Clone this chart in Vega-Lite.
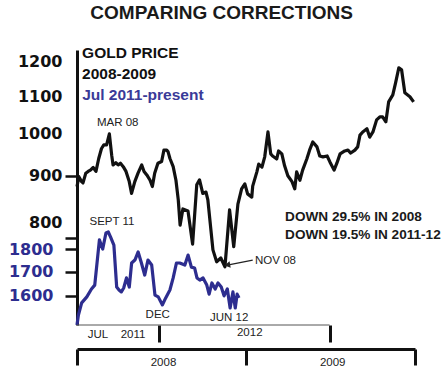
{
  "$schema": "https://vega.github.io/schema/vega-lite/v6.json",
  "width": 338,
  "height": 275,
  "autosize": {"type": "none"},
  "padding": {"left": 77, "top": 50, "right": 30, "bottom": 46},
  "background": "white",
  "config": {"view": {"stroke": null}, "font": "Liberation Sans"},
  "title": {"text": "COMPARING CORRECTIONS", "font": "Liberation Sans", "fontSize": 19, "fontWeight": "bold", "color": "#1a1a1a", "anchor": "middle", "frame": "bounds", "baseline": "alphabetic", "offset": 8, "dx": -3},
  "datasets": {
    "gold": [
      {"date":"2008-01-01","price":876},{"date":"2008-01-05","price":898},{"date":"2008-01-11","price":887},{"date":"2008-01-14","price":884},{"date":"2008-01-20","price":906},{"date":"2008-01-25","price":910},{"date":"2008-01-30","price":913},{"date":"2008-02-05","price":919},{"date":"2008-02-11","price":910},{"date":"2008-02-17","price":940},{"date":"2008-02-23","price":964},{"date":"2008-02-28","price":973},{"date":"2008-03-05","price":973},{"date":"2008-03-11","price":1000},{"date":"2008-03-16","price":948},{"date":"2008-03-19","price":925},{"date":"2008-03-25","price":930},{"date":"2008-03-30","price":925},{"date":"2008-04-04","price":929},{"date":"2008-04-10","price":921},{"date":"2008-04-16","price":910},{"date":"2008-04-23","price":887},{"date":"2008-04-28","price":861},{"date":"2008-05-05","price":887},{"date":"2008-05-12","price":906},{"date":"2008-05-20","price":925},{"date":"2008-05-25","price":910},{"date":"2008-05-31","price":902},{"date":"2008-06-07","price":890},{"date":"2008-06-12","price":876},{"date":"2008-06-17","price":906},{"date":"2008-06-24","price":929},{"date":"2008-07-02","price":933},{"date":"2008-07-07","price":960},{"date":"2008-07-13","price":960},{"date":"2008-07-16","price":956},{"date":"2008-07-20","price":940},{"date":"2008-07-27","price":921},{"date":"2008-08-02","price":890},{"date":"2008-08-07","price":847},{"date":"2008-08-11","price":795},{"date":"2008-08-17","price":828},{"date":"2008-08-28","price":824},{"date":"2008-09-07","price":758},{"date":"2008-09-16","price":880},{"date":"2008-09-22","price":891},{"date":"2008-09-29","price":861},{"date":"2008-10-06","price":864},{"date":"2008-10-10","price":847},{"date":"2008-10-21","price":747},{"date":"2008-10-29","price":725},{"date":"2008-11-07","price":732},{"date":"2008-11-16","price":716},{"date":"2008-11-26","price":826},{"date":"2008-12-05","price":753},{"date":"2008-12-14","price":838},{"date":"2008-12-22","price":871},{"date":"2008-12-29","price":882},{"date":"2009-01-04","price":860},{"date":"2009-01-13","price":853},{"date":"2009-01-15","price":877},{"date":"2009-01-24","price":909},{"date":"2009-01-28","price":927},{"date":"2009-02-04","price":920},{"date":"2009-02-10","price":944},{"date":"2009-02-17","price":1005},{"date":"2009-02-23","price":951},{"date":"2009-02-27","price":946},{"date":"2009-03-08","price":939},{"date":"2009-03-12","price":958},{"date":"2009-03-19","price":951},{"date":"2009-03-25","price":923},{"date":"2009-04-01","price":900},{"date":"2009-04-10","price":887},{"date":"2009-04-16","price":871},{"date":"2009-04-20","price":909},{"date":"2009-04-27","price":890},{"date":"2009-05-03","price":913},{"date":"2009-05-12","price":939},{"date":"2009-05-18","price":960},{"date":"2009-05-25","price":980},{"date":"2009-06-03","price":968},{"date":"2009-06-09","price":946},{"date":"2009-06-16","price":944},{"date":"2009-06-25","price":946},{"date":"2009-07-01","price":932},{"date":"2009-07-10","price":913},{"date":"2009-07-16","price":929},{"date":"2009-07-23","price":951},{"date":"2009-08-02","price":958},{"date":"2009-08-09","price":960},{"date":"2009-08-15","price":953},{"date":"2009-08-24","price":960},{"date":"2009-08-30","price":968},{"date":"2009-09-04","price":997},{"date":"2009-09-10","price":1005},{"date":"2009-09-19","price":1013},{"date":"2009-09-25","price":992},{"date":"2009-10-02","price":1005},{"date":"2009-10-10","price":1036},{"date":"2009-10-17","price":1044},{"date":"2009-10-23","price":1044},{"date":"2009-10-30","price":1031},{"date":"2009-11-05","price":1084},{"date":"2009-11-14","price":1103},{"date":"2009-11-20","price":1137},{"date":"2009-11-27","price":1181},{"date":"2009-12-03","price":1175},{"date":"2009-12-10","price":1109},{"date":"2009-12-21","price":1098},{"date":"2009-12-29","price":1084}
    ],
    "blue": [
      {"date":"2011-07-10","price":1487},{"date":"2011-07-13","price":1525},{"date":"2011-07-20","price":1572},{"date":"2011-07-31","price":1596},{"date":"2011-08-10","price":1628},{"date":"2011-08-17","price":1644},{"date":"2011-08-27","price":1842},{"date":"2011-09-03","price":1800},{"date":"2011-09-10","price":1874},{"date":"2011-09-15","price":1879},{"date":"2011-09-20","price":1855},{"date":"2011-09-27","price":1818},{"date":"2011-10-03","price":1636},{"date":"2011-10-08","price":1624},{"date":"2011-10-13","price":1616},{"date":"2011-10-18","price":1632},{"date":"2011-10-24","price":1674},{"date":"2011-10-30","price":1636},{"date":"2011-11-04","price":1738},{"date":"2011-11-11","price":1751},{"date":"2011-11-18","price":1787},{"date":"2011-11-25","price":1738},{"date":"2011-12-02","price":1686},{"date":"2011-12-09","price":1751},{"date":"2011-12-17","price":1729},{"date":"2011-12-24","price":1603},{"date":"2011-12-31","price":1596},{"date":"2012-01-09","price":1564},{"date":"2012-01-16","price":1592},{"date":"2012-01-25","price":1624},{"date":"2012-02-01","price":1674},{"date":"2012-02-08","price":1738},{"date":"2012-02-15","price":1738},{"date":"2012-02-26","price":1729},{"date":"2012-03-04","price":1773},{"date":"2012-03-11","price":1720},{"date":"2012-03-18","price":1716},{"date":"2012-03-23","price":1674},{"date":"2012-03-29","price":1665},{"date":"2012-04-05","price":1674},{"date":"2012-04-13","price":1644},{"date":"2012-04-18","price":1607},{"date":"2012-04-24","price":1653},{"date":"2012-05-01","price":1628},{"date":"2012-05-07","price":1653},{"date":"2012-05-14","price":1636},{"date":"2012-05-20","price":1600},{"date":"2012-05-27","price":1628},{"date":"2012-06-02","price":1552},{"date":"2012-06-08","price":1616},{"date":"2012-06-13","price":1552},{"date":"2012-06-17","price":1607},{"date":"2012-06-21","price":1592}
    ],
    "goldNotes": [{"date":"2008-02-13","price":1028,"label":"MAR 08"},{"date":"2009-01-20","price":726,"label":"NOV 08"}],
    "goldHead": [{"date":"2008-01-12","price":1226,"label":"GOLD PRICE"},{"date":"2008-01-12","price":1163,"label":"2008-2009"}],
    "goldDown": [{"date":"2009-03-26","price":812,"label":"DOWN 29.5% IN 2008"},{"date":"2009-03-26","price":775.5,"label":"DOWN 19.5% IN 2011-12"}],
    "arrow": [{"date":"2008-11-21","price":719,"date2":"2009-01-15","price2":728}],
    "arrowHead": [{"date":"2008-11-21","price":719}],
    "blueNotes": [{"date":"2011-09-23","price":1927,"label":"SEPT 11"},{"date":"2011-12-30","price":1525,"label":"DEC"},{"date":"2012-05-31","price":1513,"label":"JUN 12"},{"date":"2011-08-24","price":1450,"label":"JUL"},{"date":"2011-11-07","price":1450,"label":"2011"},{"date":"2012-07-14","price":1457,"label":"2012"}],
    "blueHead": [{"date":"2011-07-21","price":2652,"label":"Jul 2011-present"}],
    "blueAxisLine": [{"date":"2011-07-10","date2":"2013-01-01"}]
  },
  "layer": [
    {
      "layer": [
        {
          "data": {"name": "gold"},
          "mark": {"type": "line", "color": "#111111", "strokeWidth": 3.2, "strokeJoin": "round"},
          "encoding": {
            "x": {"field": "date", "type": "temporal",
              "scale": {"domain": [{"year": 2008, "month": 1, "date": 1}, {"year": 2010, "month": 1, "date": 1}]},
              "axis": {"orient": "bottom", "offset": 24, "title": null, "grid": false,
                "values": [{"year": 2008, "month": 1, "date": 1}, {"year": 2009, "month": 1, "date": 1}, {"year": 2010, "month": 1, "date": 1}],
                "format": "%Y", "labelExpr": "datum.label == '2010' ? '' : datum.label",
                "labelOffset": 86, "labelFlush": false, "labelBound": false, "labelFont": "Liberation Sans", "labelFontSize": 11.5, "labelColor": "#222222", "labelPadding": -9,
                "tickSize": 16, "tickWidth": 3, "tickColor": "#111111", "domainWidth": 3, "domainColor": "#111111"}},
            "y": {"field": "price", "type": "quantitative",
              "scale": {"type": "log", "domain": [618.4, 1235], "nice": false, "zero": false},
              "axis": {"orient": "left", "title": null, "grid": false,
                "values": [770, 800, 900, 1000, 1100, 1200], "format": "d",
                "labelExpr": "datum.value == 770 ? '' : datum.label",
                "labelFont": "DejaVu Sans", "labelFontSize": 16, "labelFontWeight": "bold", "labelColor": "#111111", "labelPadding": 3,
                "tickSize": 12, "tickWidth": 2.5, "tickColor": "#111111",
                "tickOpacity": {"condition": {"test": "datum.value == 900 || datum.value == 770", "value": 1}, "value": 0},
                "domainWidth": 3, "domainColor": "#111111"}}
          }
        },
        {
          "data": {"name": "goldNotes"},
          "mark": {"type": "text", "align": "left", "baseline": "middle", "font": "Liberation Sans", "fontSize": 11.5, "color": "#222222"},
          "encoding": {"x": {"field": "date", "type": "temporal"}, "y": {"field": "price", "type": "quantitative"}, "text": {"field": "label", "type": "nominal"}}
        },
        {
          "data": {"name": "goldHead"},
          "mark": {"type": "text", "align": "left", "baseline": "middle", "font": "Liberation Sans", "fontSize": 15.5, "fontWeight": "bold", "color": "#111111"},
          "encoding": {"x": {"field": "date", "type": "temporal"}, "y": {"field": "price", "type": "quantitative"}, "text": {"field": "label", "type": "nominal"}}
        },
        {
          "data": {"name": "goldDown"},
          "mark": {"type": "text", "align": "left", "baseline": "middle", "font": "Liberation Sans", "fontSize": 13.6, "fontWeight": "bold", "color": "#1a1a1a"},
          "encoding": {"x": {"field": "date", "type": "temporal"}, "y": {"field": "price", "type": "quantitative"}, "text": {"field": "label", "type": "nominal"}}
        },
        {
          "data": {"name": "arrow"},
          "mark": {"type": "rule", "color": "#222222", "strokeWidth": 1.2},
          "encoding": {"x": {"field": "date", "type": "temporal"}, "x2": {"field": "date2"}, "y": {"field": "price", "type": "quantitative"}, "y2": {"field": "price2"}}
        },
        {
          "data": {"name": "arrowHead"},
          "mark": {"type": "point", "shape": "triangle-left", "filled": true, "size": 45, "color": "#222222", "opacity": 1, "angle": 350},
          "encoding": {"x": {"field": "date", "type": "temporal"}, "y": {"field": "price", "type": "quantitative"}}
        }
      ]
    },
    {
      "layer": [
        {
          "data": {"name": "blue"},
          "mark": {"type": "line", "color": "#2d2d8f", "strokeWidth": 3.2, "strokeJoin": "round"},
          "encoding": {
            "x": {"field": "date", "type": "temporal",
              "scale": {"domain": [{"year": 2011, "month": 7, "date": 10}, {"year": 2013, "month": 7, "date": 3}]},
              "axis": {"orient": "bottom", "offset": 0, "title": null, "grid": false, "labels": false, "domain": false,
                "values": [{"year": 2012, "month": 1, "date": 1}, {"year": 2013, "month": 1, "date": 1}],
                "tickSize": 17, "tickWidth": 3, "tickColor": "#111111"}},
            "y": {"field": "price", "type": "quantitative",
              "scale": {"type": "log", "domain": [1487, 2970], "nice": false, "zero": false},
              "axis": {"orient": "left", "title": null, "grid": false, "domain": false,
                "values": [1600, 1700, 1800], "format": "d",
                "labelFont": "DejaVu Sans", "labelFontSize": 16, "labelFontWeight": "bold", "labelColor": "#2d2d8f", "labelPadding": 12,
                "tickSize": 12, "tickWidth": 2.5, "tickColor": "#111111"}}
          }
        },
        {
          "data": {"name": "blueAxisLine"},
          "mark": {"type": "rule", "color": "#555555", "strokeWidth": 1},
          "encoding": {"x": {"field": "date", "type": "temporal"}, "x2": {"field": "date2"}, "y": {"datum": 1487}}
        },
        {
          "data": {"name": "blueNotes"},
          "mark": {"type": "text", "align": "center", "baseline": "middle", "font": "Liberation Sans", "fontSize": 11.5, "color": "#222222"},
          "encoding": {"x": {"field": "date", "type": "temporal"}, "y": {"field": "price", "type": "quantitative"}, "text": {"field": "label", "type": "nominal"}}
        },
        {
          "data": {"name": "blueHead"},
          "mark": {"type": "text", "align": "left", "baseline": "middle", "font": "Liberation Sans", "fontSize": 15.5, "fontWeight": "bold", "color": "#3a3a98"},
          "encoding": {"x": {"field": "date", "type": "temporal"}, "y": {"field": "price", "type": "quantitative"}, "text": {"field": "label", "type": "nominal"}}
        }
      ]
    }
  ],
  "resolve": {"scale": {"x": "independent", "y": "independent"}}
}
